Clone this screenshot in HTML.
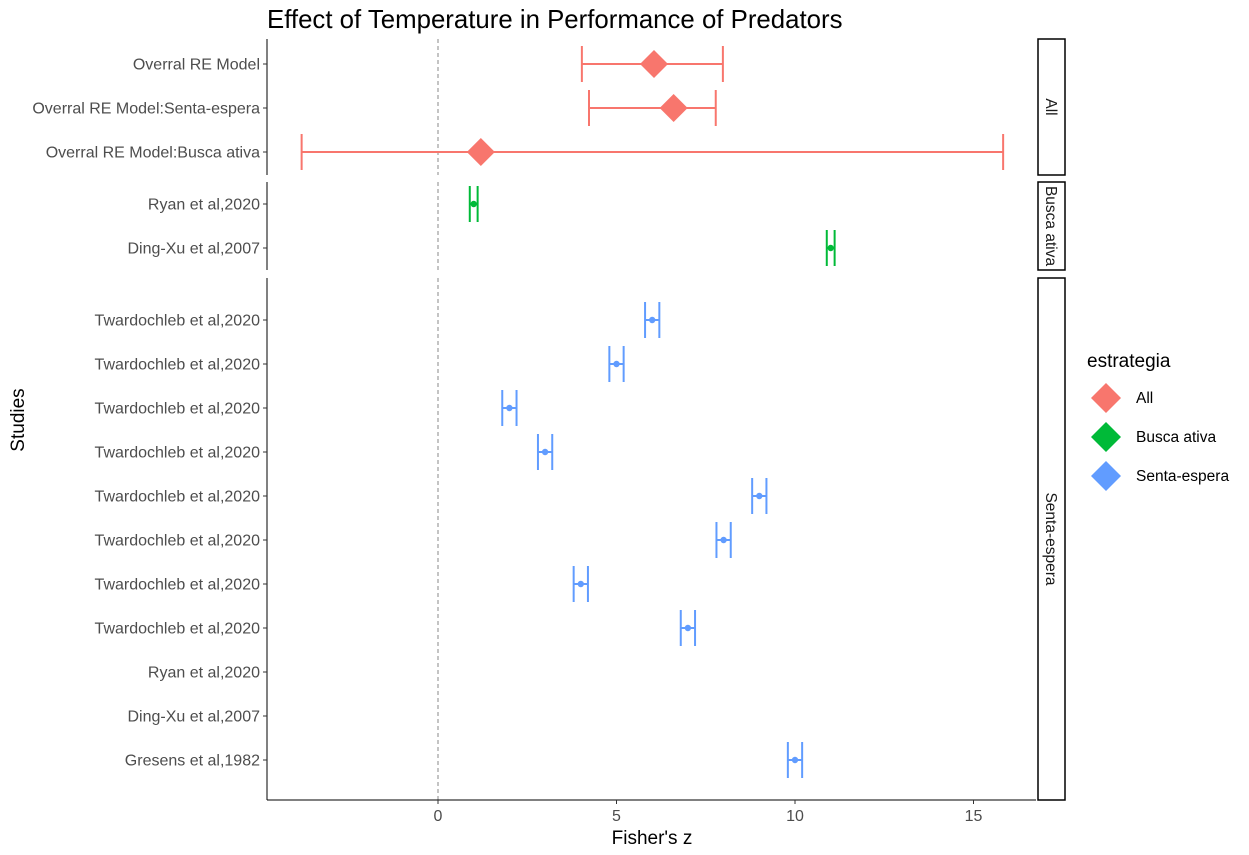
<!DOCTYPE html>
<html><head><meta charset="utf-8"><style>
body{margin:0;background:#fff;}
svg{display:block;font-family:"Liberation Sans",Arial,sans-serif;}
</style></head><body>
<svg id="chart" width="1249" height="855">
<text x="267" y="28" font-size="25.8" fill="#000">Effect of Temperature in Performance of Predators</text>
<text transform="translate(24,420) rotate(-90)" text-anchor="middle" font-size="19" fill="#000">Studies</text>
<text x="652" y="844" text-anchor="middle" font-size="19" fill="#000">Fisher's z</text>
<g id="panels"></g>
<g id="legend">
<text x="1087" y="367" font-size="19" fill="#000">estrategia</text>
</g>
</svg>
<script>
const xTicks=[0,5,10,15];
const groups=["All","Busca ativa","Senta-espera"];
const colors={"All":"#F8766D","Busca ativa":"#00BA38","Senta-espera":"#619CFF"};
const allLabels=["Overral RE Model","Overral RE Model:Senta-espera","Overral RE Model:Busca ativa"];
const allEst=[6.05,6.6,1.2];
const allLo=[4.03,4.23,-3.82];
const allHi=[7.98,7.78,15.83];
const buscaLabels=["Ryan et al,2020","Ding-Xu et al,2007"];
const buscaEst=[1.0,11.0];
const buscaLo=[0.89,10.89];
const buscaHi=[1.11,11.11];
const sentaLabels=["Twardochleb et al,2020","Twardochleb et al,2020","Twardochleb et al,2020","Twardochleb et al,2020","Twardochleb et al,2020","Twardochleb et al,2020","Twardochleb et al,2020","Twardochleb et al,2020","Ryan et al,2020","Ding-Xu et al,2007","Gresens et al,1982"];
const sentaEst=[6,5,2,3,9,8,4,7,null,null,10];
const sentaLo=[5.8,4.8,1.8,2.8,8.8,7.8,3.8,6.8,null,null,9.8];
const sentaHi=[6.2,5.2,2.2,3.2,9.2,8.2,4.2,7.2,null,null,10.2];

const NS="http://www.w3.org/2000/svg";
const x=v=>438+v*35.7;
const g=document.getElementById('panels');
function mk(tag,attrs,parent){const e=document.createElementNS(NS,tag);for(const k in attrs)e.setAttribute(k,attrs[k]);(parent||g).appendChild(e);return e;}
const panels=[
 {name:"All",top:39,bot:175,y0:64,labels:allLabels,est:allEst,lo:allLo,hi:allHi,diamond:true,cap:18,strip:"All"},
 {name:"Busca ativa",top:182,bot:270,y0:204,labels:buscaLabels,est:buscaEst,lo:buscaLo,hi:buscaHi,diamond:false,cap:18,strip:"Busca ativa"},
 {name:"Senta-espera",top:278,bot:800,y0:320,labels:sentaLabels,est:sentaEst,lo:sentaLo,hi:sentaHi,diamond:false,cap:18,strip:"Senta-espera"}
];
panels.forEach((p,pi)=>{
 const col=colors[p.name];
 const pg=mk('g',{});
 
 
 const dl=mk('line',{x1:x(0),x2:x(0),y1:p.top,y2:p.bot,stroke:'#888','stroke-dasharray':'4,3','stroke-width':1},pg);
 
 
 const ax=mk('line',{x1:267,x2:267,y1:p.top,y2:p.bot,stroke:'#000','stroke-width':1},pg);
 
 
 p.labels.forEach((lab,i)=>{
  const y=p.y0+i*44;
  const t=mk('text',{x:260,y:y+5.5,'text-anchor':'end','font-size':16,fill:'#4d4d4d'},pg);
  t.textContent=lab;
  
  
  mk('line',{x1:263,x2:267,y1:y,y2:y,stroke:'#333'},pg);
  if(p.est[i]==null)return;
  const eb=mk('g',{stroke:col,'stroke-width':2,fill:'none'},pg);
  
  
  mk('line',{x1:x(p.lo[i]),x2:x(p.hi[i]),y1:y,y2:y},eb);
  mk('line',{x1:x(p.lo[i]),x2:x(p.lo[i]),y1:y-p.cap,y2:y+p.cap},eb);
  mk('line',{x1:x(p.hi[i]),x2:x(p.hi[i]),y1:y-p.cap,y2:y+p.cap},eb);
  const cx=x(p.est[i]);
  let m;
  if(p.diamond){m=mk('polygon',{points:`${cx},${y-14} ${cx+14},${y} ${cx},${y+14} ${cx-14},${y}`,fill:col},pg);}
  else{m=mk('circle',{cx:cx,cy:y,r:3.2,fill:col},pg);}
  
  
 });
 const sr=mk('rect',{x:1038,y:p.top,width:27,height:p.bot-p.top,fill:'#fff',stroke:'#000','stroke-width':1.5},pg);
 
 
 const st=mk('text',{'text-anchor':'middle','font-size':15.5,fill:'#1a1a1a',transform:`translate(1046,${(p.top+p.bot)/2}) rotate(90)`},pg);
 st.textContent=p.strip;
 
 
});
const xa=mk('line',{x1:267,x2:1036,y1:800,y2:800,stroke:'#000'});


xTicks.forEach(v=>{
 mk('line',{x1:x(v),x2:x(v),y1:800,y2:804,stroke:'#333'});
 const t=mk('text',{x:x(v),y:821,'text-anchor':'middle','font-size':16,fill:'#4d4d4d'});
 t.textContent=v;
 
 
});
const lg=document.getElementById('legend');
groups.forEach((gname,i)=>{
 const y=398+i*39;
 const e=mk('g',{},lg);
 
 
 mk('polygon',{points:`1106,${y-15} 1121,${y} 1106,${y+15} 1091,${y}`,fill:colors[gname]},e);
 const t=mk('text',{x:1136,y:y+5,'font-size':15.5,fill:'#000'},e);
 t.textContent=gname;
});
</script>
</body></html>
